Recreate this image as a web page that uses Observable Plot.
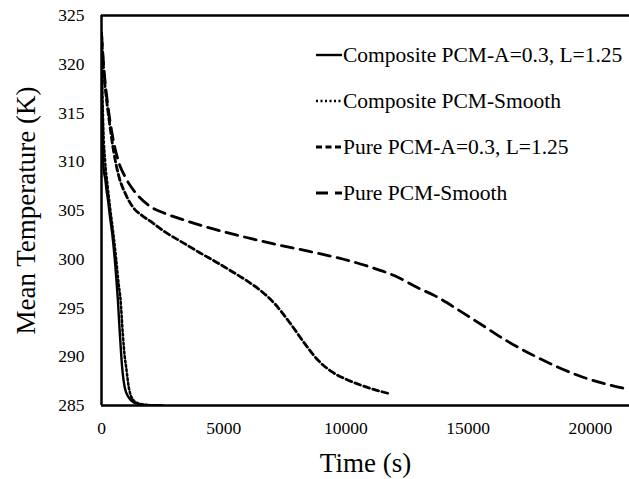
<!DOCTYPE html>
<html>
<head>
<meta charset="utf-8">
<script src="https://cdn.jsdelivr.net/npm/d3@7"></script>
<script src="https://cdn.jsdelivr.net/npm/@observablehq/plot@0.6"></script>
<style>
  html, body { margin: 0; padding: 0; background: #fff; }
  #wrap { position: relative; width: 629px; height: 479px; overflow: hidden; font-family: "Liberation Serif", "Times New Roman", serif; }
  #legend { position: absolute; left: 316px; top: 32px; }
  .row { display: flex; align-items: center; height: 46px; font-size: 21.5px; color: #000; white-space: nowrap; }
  .row svg { margin-right: 1px; }
</style>
</head>
<body>
<div id="wrap"></div>
<script>
// ---- data ----
const seriesNames = [
  "Composite PCM-A=0.3, L=1.25",
  "Composite PCM-Smooth",
  "Pure PCM-A=0.3, L=1.25",
  "Pure PCM-Smooth"
];

const compositeA_time = [0, 10, 30, 60, 100, 150, 200, 270, 350, 440, 570, 670, 750, 845, 955, 1120, 1320, 1600, 2000, 2500];
const compositeA_temp = [323.2, 320, 315, 310.5, 309, 308.3, 307.2, 306, 304.3, 302.6, 299.2, 295.8, 292.4, 288.9, 286.8, 285.8, 285.3, 285.1, 285.02, 285.0];

const compositeS_time = [0, 30, 80, 150, 250, 350, 500, 600, 700, 780, 870, 950, 1010, 1120, 1320, 1600, 2000, 2500];
const compositeS_temp = [323.2, 318, 313, 310, 307.5, 305.3, 302.3, 300, 297.5, 295.8, 292.4, 290, 288.9, 286.8, 285.5, 285.15, 285.03, 285.0];

const pureA_time = [0, 100, 200, 300, 500, 700, 1000, 1300, 1650, 2000, 2600, 3400, 4000, 4700, 5300, 6000, 6500, 7100, 7700, 8300, 8800, 9400, 10000, 10600, 11200, 11800];
const pureA_temp = [323.2, 319, 316.5, 314.5, 311, 308.6, 306.6, 305.3, 304.5, 303.9, 302.8, 301.6, 300.7, 299.7, 298.8, 297.7, 296.8, 295.4, 293.5, 291.4, 289.8, 288.5, 287.7, 287.1, 286.6, 286.2];

const pureS_time = [0, 100, 200, 300, 500, 700, 1000, 1400, 2000, 2600, 3400, 4300, 5500, 7000, 8500, 9900, 11000, 12000, 13000, 13600, 14600, 15600, 16600, 17700, 18700, 19700, 20500, 21300, 21600];
const pureS_temp = [323.2, 319.5, 317, 315, 312, 310, 308.3, 306.8, 305.4, 304.7, 304.0, 303.3, 302.5, 301.6, 300.8, 300.0, 299.2, 298.3, 297.0, 296.3, 294.8, 293.2, 291.6, 290.1, 288.9, 287.9, 287.3, 286.8, 286.7];

const xTicks = [0, 5000, 10000, 15000, 20000];
const yTicks = [285, 290, 295, 300, 305, 310, 315, 320, 325];

// ---- build table ----
const toRows = (ts, vs, name) => ts.map((t, i) => ({time: t, temp: vs[i], series: name}));
const rowsCA = toRows(compositeA_time, compositeA_temp, seriesNames[0]);
const rowsCS = toRows(compositeS_time, compositeS_temp, seriesNames[1]);
const rowsPA = toRows(pureA_time, pureA_temp, seriesNames[2]);
const rowsPS = toRows(pureS_time, pureS_temp, seriesNames[3]);

const styles = [
  {width: 2.4, dash: null},
  {width: 2.5, dash: "2,2.5"},
  {width: 2.8, dash: "6,3.5"},
  {width: 2.8, dash: "12,7"}
];

const font = "Liberation Serif";

const chart = Plot.plot({
  width: 629,
  height: 479,
  marginLeft: 101,
  marginRight: 0,
  marginTop: 15,
  marginBottom: 74,
  style: {fontFamily: font, fontSize: "17.5px", color: "#000", background: "#fff"},
  x: {domain: [0, 21600], label: null},
  y: {domain: [285, 325], label: null},
  marks: [
    Plot.axisX({ticks: xTicks, tickSize: 0, tickPadding: 16, tickFormat: d3.format("d"), label: null, fontFamily: font}),
    Plot.axisY({ticks: yTicks, tickSize: 0, tickPadding: 17, tickFormat: d3.format("d"), label: null, fontFamily: font}),
    Plot.line(rowsPS, {x: "time", y: "temp", stroke: "#000", strokeWidth: styles[3].width, strokeDasharray: styles[3].dash, curve: "monotone-x", clip: true}),
    Plot.line(rowsPA, {x: "time", y: "temp", stroke: "#000", strokeWidth: styles[2].width, strokeDasharray: styles[2].dash, curve: "monotone-x", clip: true}),
    Plot.line(rowsCS, {x: "time", y: "temp", stroke: "#000", strokeWidth: styles[1].width, strokeDasharray: styles[1].dash, curve: "monotone-x", clip: true}),
    Plot.line(rowsCA, {x: "time", y: "temp", stroke: "#000", strokeWidth: styles[0].width, curve: "monotone-x", clip: true}),
    Plot.ruleX([0], {stroke: "#000", strokeWidth: 2.5}),
    Plot.ruleY([285], {stroke: "#000", strokeWidth: 2.5}),
    Plot.ruleY([325], {stroke: "#000", strokeWidth: 2.5}),
    Plot.text(["Time (s)"], {frameAnchor: "bottom", textAnchor: "middle", lineAnchor: "middle", dy: 58, fontSize: 27, fontFamily: font, fill: "#000"}),
    Plot.text(["Mean Temperature (K)"], {frameAnchor: "left", textAnchor: "middle", lineAnchor: "middle", dx: -75, rotate: -90, fontSize: 27, fontFamily: font, fill: "#000"})
  ]
});

const wrap = document.getElementById("wrap");
wrap.appendChild(chart);

// ---- legend ----
const legend = document.createElement("div");
legend.id = "legend";
seriesNames.forEach((name, i) => {
  const row = document.createElement("div");
  row.className = "row";
  const s = styles[i];
  const dash = s.dash ? ` stroke-dasharray="${s.dash}"` : "";
  row.innerHTML = `<svg width="26" height="10"><line x1="0" y1="5" x2="26" y2="5" stroke="#000" stroke-width="${s.width}"${dash}/></svg><span>${name}</span>`;
  legend.appendChild(row);
});
wrap.appendChild(legend);
</script>
</body>
</html>
